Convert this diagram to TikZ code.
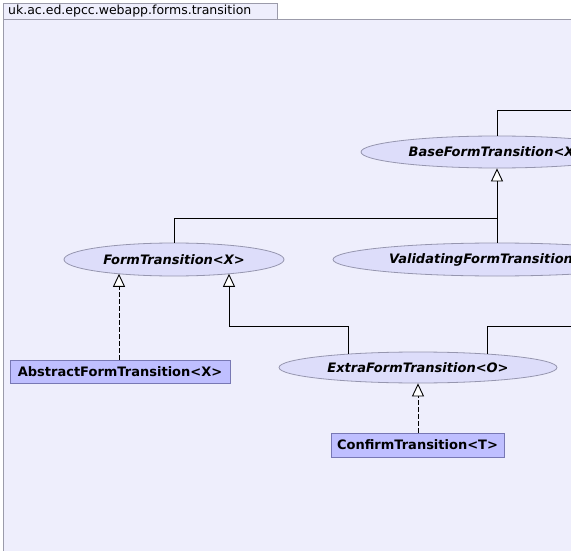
\documentclass[tikz,border=0pt]{standalone}
\usepackage{fontspec}
\setmainfont{DejaVu Sans}
\usetikzlibrary{arrows.meta,shapes.geometric,calc}
\definecolor{panelbg}{RGB}{238,238,252}
\definecolor{panelbd}{RGB}{155,155,170}
\definecolor{ellbg}{RGB}{221,221,250}
\definecolor{ellbd}{RGB}{150,150,175}
\definecolor{boxbg}{RGB}{191,191,255}
\definecolor{boxbd}{RGB}{120,120,180}
\tikzset{
  iface/.style={ellipse,draw=ellbd,fill=ellbg,line width=0.8pt,inner sep=0pt,
    font=\fontsize{13}{15}\selectfont\bfseries\itshape},
  cls/.style={rectangle,draw=boxbd,fill=boxbg,line width=0.8pt,inner sep=0pt,
    font=\fontsize{13}{15}\selectfont\bfseries},
  inherit/.style={line width=0.9pt,-{Triangle[open,length=13pt,width=12pt,fill=white]}},
  realize/.style={inherit,dash pattern=on 5pt off 2pt},
  link/.style={line width=0.9pt}
}
\begin{document}
\begin{tikzpicture}[x=1pt,y=-1pt]
\useasboundingbox (0,0) rectangle (571,551);
\clip (0,0) rectangle (571,551);
\fill[white] (0,0) rectangle (571,551);
% tab and panel
\node[draw=panelbd,fill=panelbg,line width=0.9pt,minimum width=274pt,minimum height=16pt,inner sep=0pt,anchor=north west] (tab) at (3,3) {};
\node[anchor=west,inner sep=0pt,font=\fontsize{12.5}{14}\selectfont] (tabtext) at (8,11.5) {uk.ac.ed.epcc.webapp.forms.transition};
\node[draw=panelbd,fill=panelbg,line width=0.9pt,minimum width=640pt,minimum height=560pt,inner sep=0pt,anchor=north west] (panel) at (3,19) {};
% nodes
\node[iface,minimum width=272pt,minimum height=32pt] (base) at (497,152) {BaseFormTransition<X>};
\node[iface,minimum width=328pt,minimum height=33pt] (valid) at (497,259.5) {ValidatingFormTransition<X>};
\node[iface,minimum width=220pt,minimum height=33pt] (ft) at (174,259.5) {FormTransition<X>};
\node[iface,minimum width=278pt,minimum height=31pt] (extra) at (418,367.5) {ExtraFormTransition<O>};
\node[cls,minimum width=220pt,minimum height=23pt] (abs) at (120,371.5) {AbstractFormTransition<X>};
\node[cls,minimum width=173pt,minimum height=24pt] (conf) at (417.5,445) {ConfirmTransition<T>};
% connector points on the ellipse borders
\coordinate (ftL) at ($(ft.center)+(-55,14.3)$);
\coordinate (ftR) at ($(ft.center)+(55,14.3)$);
\coordinate (exL) at ($(extra.center)+(-70,-13.4)$);
\coordinate (exR) at ($(extra.center)+(69,-13.4)$);
% free ends
\coordinate (baseout) at (600,110);
\coordinate (extraout) at (600,326);
% connectors
\draw[link] (base.north) |- (baseout);
\draw[inherit] (valid.north) -- (base.south);
\draw[link] (ft.north) |- (valid.north |- 0,218);
\draw[realize] (abs.north -| ftL) -- (ftL);
\draw[inherit] (exL) |- (ftR |- exL |- 0,326) -- (ftR);
\draw[link] (exR) |- (extraout);
\draw[realize] (conf.north -| extra.south) -- (extra.south);
\end{tikzpicture}
\end{document}
